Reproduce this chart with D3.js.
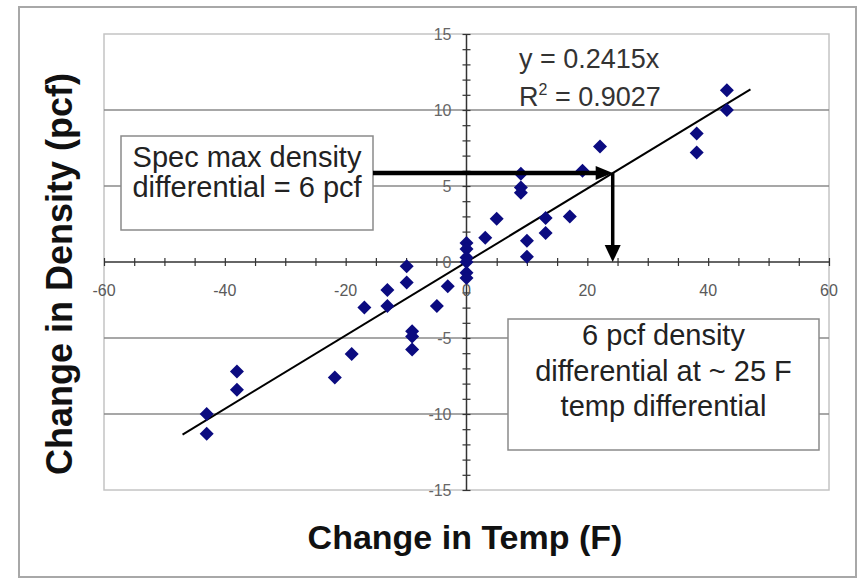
<!DOCTYPE html>
<html>
<head>
<meta charset="utf-8">
<script src="https://cdn.jsdelivr.net/npm/d3@7"></script>
<style>
  html, body { margin: 0; padding: 0; background: #ffffff; }
  svg { display: block; font-family: "Liberation Sans", Arial, sans-serif; }
</style>
</head>
<body>
<svg id="chart" width="866" height="580"></svg>
<script>
// ---- data ----
const tempChange = [43.1, 43.1, 38.1, 38.1, 22.1, 19.2, 9.0, 9.0, 9.0, 5.0, 3.1, 13.1, 13.1, 17.1, 10.0, 10.0,
                    0, 0, 0, 0, 0, 0,
                    -43.0, -43.0, -38.0, -38.0, -21.8, -19.0, -16.9, -13.1, -13.1, -9.9, -9.9, -9.0, -9.0, -9.0, -4.9, -3.1];
const densityChange = [11.3, 10.0, 8.45, 7.2, 7.6, 6.0, 5.8, 4.9, 4.55, 2.85, 1.6, 2.9, 1.9, 3.0, 1.4, 0.35,
                       1.25, 0.85, 0.3, 0, -0.7, -1.05,
                       -10.0, -11.3, -7.2, -8.4, -7.6, -6.05, -3.0, -1.85, -2.9, -0.28, -1.35, -4.55, -4.9, -5.75, -2.9, -1.6];
const slope = 0.2415;
const trendRange = [-47, 47];
const xLabelValues = [-60, -40, -20, 0, 20, 40, 60];
const yLabelValues = [-15, -10, -5, 0, 5, 10, 15];
const yGridValues = [-10, -5, 5, 10];
const specDensity = 5.85;
const specTemp = 24.2;
const eqLine1 = "y = 0.2415x";
const eqR2 = "= 0.9027";
const box1Lines = ["Spec max density", "differential = 6 pcf"];
const box2Lines = ["6 pcf density", "differential at ~ 25 F", "temp differential"];
const xTitle = "Change in Temp (F)";
const yTitle = "Change in Density (pcf)";

// ---- layout ----
const svg = d3.select("#chart");
const plot = {left: 104, right: 829, top: 34, bottom: 490};
const x = d3.scaleLinear().domain([-60, 60]).range([plot.left, plot.right]);
const y = d3.scaleLinear().domain([-15, 15]).range([plot.bottom, plot.top]);

// outer frame
svg.append("rect").attr("x", 19).attr("y", 7).attr("width", 837).attr("height", 570)
  .attr("fill", "#fff").attr("stroke", "#a8a8a8").attr("stroke-width", 2);

// plot border
svg.append("rect").attr("x", plot.left).attr("y", plot.top)
  .attr("width", plot.right - plot.left).attr("height", plot.bottom - plot.top)
  .attr("fill", "none").attr("stroke", "#c4c4c4").attr("stroke-width", 1.5);

// gridlines
svg.append("g").selectAll("line").data(yGridValues).join("line")
  .attr("x1", plot.left).attr("x2", plot.right)
  .attr("y1", d => y(d)).attr("y2", d => y(d))
  .attr("stroke", "#8a8a8a").attr("stroke-width", 1.5);

// axes lines
const x0 = x(0), y0 = y(0);
svg.append("line").attr("x1", plot.left).attr("x2", plot.right).attr("y1", y0).attr("y2", y0)
  .attr("stroke", "#333").attr("stroke-width", 1.5);
svg.append("line").attr("x1", x0).attr("x2", x0).attr("y1", plot.top).attr("y2", plot.bottom)
  .attr("stroke", "#333").attr("stroke-width", 1.5);

// tick marks (crossing)
const xAxis = d3.axisBottom(x).tickValues(d3.range(-60, 61, 5)).tickSize(8).tickFormat("");
const gx = svg.append("g").attr("transform", `translate(0,${y0 - 4})`).call(xAxis);
gx.select(".domain").remove();
gx.selectAll(".tick line").attr("stroke", "#333").attr("stroke-width", 1.2);

const yAxis = d3.axisLeft(y).tickValues(d3.range(-15, 16, 1)).tickSize(8).tickFormat("");
const gy = svg.append("g").attr("transform", `translate(${x0 + 4},0)`).call(yAxis);
gy.select(".domain").remove();
gy.selectAll(".tick line").attr("stroke", "#333").attr("stroke-width", 1.2);

// tick labels
svg.append("g").selectAll("text").data(xLabelValues).join("text")
  .attr("x", d => x(d)).attr("y", y0 + 34)
  .attr("text-anchor", "middle").attr("font-size", 16).attr("fill", "#5a5a5a")
  .text(d => d);
svg.append("g").selectAll("text").data(yLabelValues).join("text")
  .attr("x", x0 - 15).attr("y", d => y(d) + 5.5)
  .attr("text-anchor", "end").attr("font-size", 16).attr("fill", "#666")
  .text(d => d);

// trendline
svg.append("line")
  .attr("x1", x(trendRange[0])).attr("y1", y(slope * trendRange[0]))
  .attr("x2", x(trendRange[1])).attr("y2", y(slope * trendRange[1]))
  .attr("stroke", "#000").attr("stroke-width", 2);

// points
const pts = tempChange.map((t, i) => ({t, d: densityChange[i]}));
const r = 7;
svg.append("g").selectAll("path").data(pts).join("path")
  .attr("transform", p => `translate(${x(p.t)},${y(p.d)})`)
  .attr("d", `M0,${-r}L${r},0L0,${r}L${-r},0Z`)
  .attr("fill", "#0b0b80");

// equation
svg.append("text").attr("x", 519).attr("y", 68).attr("font-size", 27).attr("fill", "#333").text(eqLine1);
const eq2 = svg.append("text").attr("x", 519).attr("y", 106).attr("font-size", 27).attr("fill", "#333");
eq2.append("tspan").text("R");
eq2.append("tspan").attr("font-size", 16).attr("dy", -11).text("2");
eq2.append("tspan").attr("dy", 11).text(" " + eqR2);

// text box 1
const b1 = {x: 121, y: 136, w: 252, h: 94};
svg.append("rect").attr("x", b1.x).attr("y", b1.y).attr("width", b1.w).attr("height", b1.h)
  .attr("fill", "#fff").attr("stroke", "#8a8a8a").attr("stroke-width", 1.5);
svg.append("g").selectAll("text").data(box1Lines).join("text")
  .attr("x", b1.x + b1.w / 2).attr("y", (d, i) => 167 + i * 30)
  .attr("text-anchor", "middle").attr("font-size", 29).attr("fill", "#222").text(d => d);

// text box 2
const b2 = {x: 508, y: 319, w: 311, h: 131};
svg.append("rect").attr("x", b2.x).attr("y", b2.y).attr("width", b2.w).attr("height", b2.h)
  .attr("fill", "#fff").attr("stroke", "#8a8a8a").attr("stroke-width", 1.5);
svg.append("g").selectAll("text").data(box2Lines).join("text")
  .attr("x", b2.x + b2.w / 2).attr("y", (d, i) => 345 + i * 35.5)
  .attr("text-anchor", "middle").attr("font-size", 29).attr("fill", "#222").text(d => d);

// arrows
const ax = x(specTemp), ay = y(specDensity);
svg.append("line").attr("x1", b1.x + b1.w).attr("x2", ax - 14).attr("y1", ay).attr("y2", ay)
  .attr("stroke", "#000").attr("stroke-width", 4.5);
svg.append("path").attr("d", `M${ax},${ay}L${ax - 17},${ay - 7}L${ax - 17},${ay + 7}Z`).attr("fill", "#000");
svg.append("line").attr("x1", ax).attr("x2", ax).attr("y1", ay).attr("y2", y0 - 14)
  .attr("stroke", "#000").attr("stroke-width", 3.5);
svg.append("path").attr("d", `M${ax},${y0}L${ax - 8},${y0 - 17}L${ax + 8},${y0 - 17}Z`).attr("fill", "#000");

// axis titles
svg.append("text").attr("x", 465).attr("y", 549).attr("text-anchor", "middle")
  .attr("font-size", 34).attr("font-weight", "bold").attr("fill", "#111").text(xTitle);
svg.append("text").attr("transform", "translate(72,274) rotate(-90)").attr("text-anchor", "middle")
  .attr("font-size", 36).attr("font-weight", "bold").attr("fill", "#111").text(yTitle);
</script>
</body>
</html>
